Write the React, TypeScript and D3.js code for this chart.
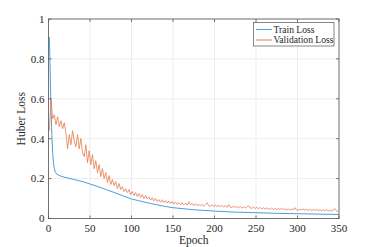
import React from 'react';
import * as d3 from 'd3';

const trainEpochs = [1, 2, 3, 4, 5, 6, 7, 8, 10, 15, 20, 30, 40, 50, 60, 70, 80, 90, 100, 110, 120, 130, 140, 150, 175, 200, 225, 250, 275, 300, 325, 350];
const trainLoss = [0.91, 0.74, 0.55, 0.42, 0.33, 0.28, 0.25, 0.235, 0.222, 0.212, 0.206, 0.196, 0.186, 0.173, 0.159, 0.144, 0.129, 0.113, 0.098, 0.088, 0.078, 0.069, 0.061, 0.054, 0.044, 0.037, 0.032, 0.029, 0.026, 0.024, 0.022, 0.02];

// validation loss sampled every 2 epochs (1, 3, 5, ... 349)
const valLoss = [
  0.44, 0.6, 0.5, 0.52, 0.47, 0.51, 0.46, 0.49, 0.45, 0.48,
  0.43, 0.35, 0.42, 0.37, 0.44, 0.39, 0.36, 0.42, 0.35, 0.4,
  0.33, 0.31, 0.37, 0.28, 0.34, 0.27, 0.32, 0.25, 0.29, 0.23,
  0.27, 0.21, 0.25, 0.2, 0.23, 0.18, 0.215, 0.17, 0.195, 0.165,
  0.185, 0.15, 0.175, 0.145, 0.16, 0.135, 0.15, 0.13, 0.145, 0.12,
  0.135, 0.115, 0.13, 0.11, 0.125, 0.105, 0.12, 0.1, 0.115, 0.098,
  0.108, 0.092, 0.104, 0.088, 0.1, 0.085, 0.095, 0.082, 0.094, 0.079,
  0.09, 0.077, 0.088, 0.074, 0.085, 0.072, 0.083, 0.071, 0.08, 0.069,
  0.079, 0.068, 0.077, 0.067, 0.084, 0.068, 0.076, 0.065, 0.074, 0.064,
  0.072, 0.063, 0.071, 0.062, 0.07, 0.079, 0.064, 0.061, 0.069, 0.06,
  0.068, 0.059, 0.067, 0.058, 0.066, 0.057, 0.065, 0.056, 0.07, 0.057,
  0.055, 0.063, 0.054, 0.061, 0.053, 0.06, 0.052, 0.059, 0.052, 0.058,
  0.064, 0.053, 0.051, 0.057, 0.05, 0.056, 0.049, 0.055, 0.048, 0.054,
  0.047, 0.053, 0.048, 0.046, 0.052, 0.045, 0.051, 0.044, 0.05, 0.045,
  0.051, 0.044, 0.049, 0.043, 0.048, 0.042, 0.048, 0.043, 0.054, 0.043,
  0.041, 0.047, 0.042, 0.048, 0.041, 0.046, 0.04, 0.046, 0.039, 0.045,
  0.04, 0.046, 0.039, 0.044, 0.038, 0.044, 0.039, 0.045, 0.038, 0.043,
  0.037, 0.042, 0.05, 0.039, 0.034,
];

const xTicks = [0, 50, 100, 150, 200, 250, 300, 350];
const yTicks = [0, 0.2, 0.4, 0.6, 0.8, 1];
const seriesNames = ['Train Loss', 'Validation Loss'];
const colors = ['#4a9fdc', '#e87a4e'];

const W = 374;
const H = 247;
const margin = { top: 19, right: 35, bottom: 28.5, left: 48.5 };

export default function App() {
  const x = d3.scaleLinear().domain([0, 350]).range([margin.left, W - margin.right]);
  const y = d3.scaleLinear().domain([0, 1]).range([H - margin.bottom, margin.top]);

  const train = trainEpochs.map((e, i) => [e, trainLoss[i]] as [number, number]);
  const val = valLoss.map((v, i) => [1 + i * 2, v] as [number, number]);

  const line = d3.line<[number, number]>()
    .x(d => x(d[0]))
    .y(d => y(d[1]));

  const font = "'Liberation Serif', 'DejaVu Serif', serif";
  const axisColor = '#555';
  const x0 = margin.left;
  const x1 = W - margin.right;
  const y0 = H - margin.bottom;
  const y1 = margin.top;

  return (
    <svg width={W} height={H} style={{ position: 'absolute', left: 0, top: 0, fontFamily: font }}>
      <rect x={0} y={0} width={W} height={H} fill="#fff" />
      {xTicks.map(t => (
        <line key={'gx' + t} x1={x(t)} x2={x(t)} y1={y0} y2={y1} stroke="#e8e8e8" strokeWidth={0.8} />
      ))}
      {yTicks.map(t => (
        <line key={'gy' + t} x1={x0} x2={x1} y1={y(t)} y2={y(t)} stroke="#e8e8e8" strokeWidth={0.8} />
      ))}
      <path d={line(train) || ''} fill="none" stroke={colors[0]} strokeWidth={1} />
      <path d={line(val) || ''} fill="none" stroke={colors[1]} strokeWidth={0.8} />
      <rect x={x0} y={y1} width={x1 - x0} height={y0 - y1} fill="none" stroke={axisColor} strokeWidth={0.8} />
      {xTicks.map(t => (
        <g key={'tx' + t}>
          <line x1={x(t)} x2={x(t)} y1={y0} y2={y0 - 3} stroke={axisColor} strokeWidth={0.8} />
          <line x1={x(t)} x2={x(t)} y1={y1} y2={y1 + 3} stroke={axisColor} strokeWidth={0.8} />
          <text x={x(t)} y={y0 + 13} textAnchor="middle" fontSize={11} fill="#262626">{t}</text>
        </g>
      ))}
      {yTicks.map(t => (
        <g key={'ty' + t}>
          <line x1={x0} x2={x0 + 3} y1={y(t)} y2={y(t)} stroke={axisColor} strokeWidth={0.8} />
          <line x1={x1} x2={x1 - 3} y1={y(t)} y2={y(t)} stroke={axisColor} strokeWidth={0.8} />
          <text x={x0 - 4} y={y(t) + 3.8} textAnchor="end" fontSize={11} fill="#262626">{String(t)}</text>
        </g>
      ))}
      <text x={(x0 + x1) / 2} y={H - 3.5} textAnchor="middle" fontSize={11.5} fill="#262626">Epoch</text>
      <text transform={`translate(25, ${(y0 + y1) / 2}) rotate(-90)`} textAnchor="middle" fontSize={11.5} fill="#262626">Huber Loss</text>
      <g>
        <rect x={253.5} y={22.5} width={80.5} height={23.5} fill="#fff" stroke={axisColor} strokeWidth={0.7} />
        {seriesNames.map((name, i) => (
          <g key={name}>
            <line x1={256} x2={272} y1={29.5 + i * 10.5} y2={29.5 + i * 10.5} stroke={colors[i]} strokeWidth={1} />
            <text x={273.5} y={32.8 + i * 10.5} fontSize={9.6} fill="#262626">{name}</text>
          </g>
        ))}
      </g>
    </svg>
  );
}
